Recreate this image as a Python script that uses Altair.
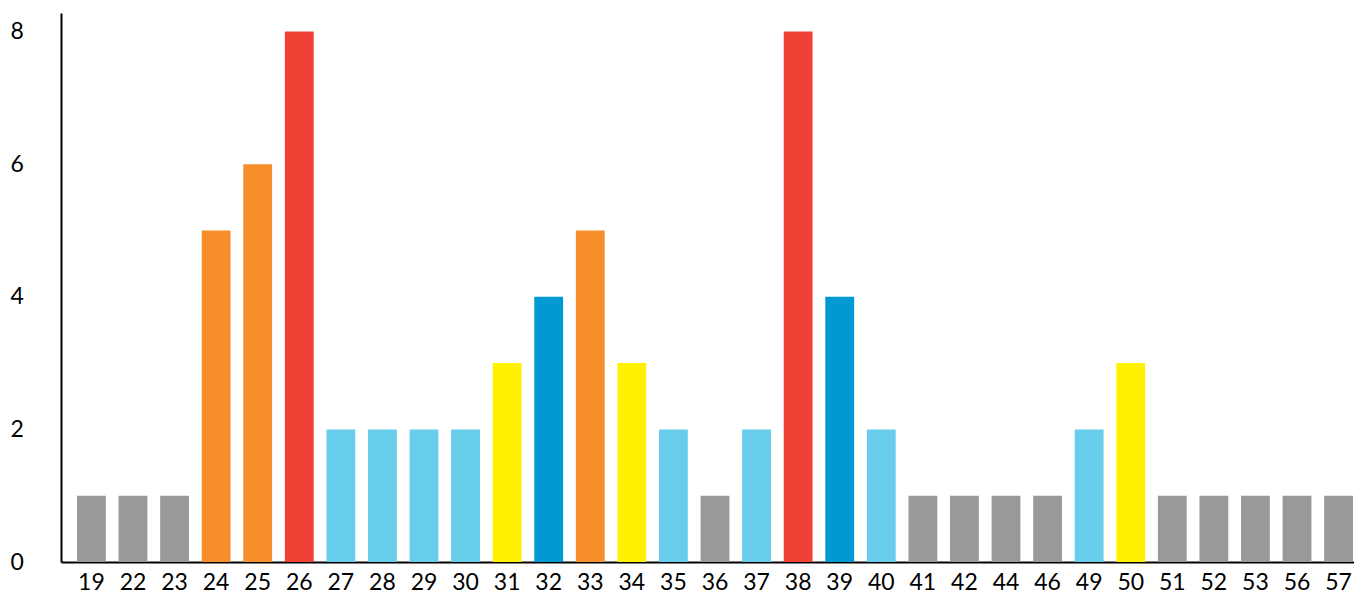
import altair as alt
import pandas as pd

ages = ["19", "22", "23", "24", "25", "26", "27", "28", "29", "30", "31", "32",
        "33", "34", "35", "36", "37", "38", "39", "40", "41", "42", "44", "46",
        "49", "50", "51", "52", "53", "56", "57"]
counts = [1, 1, 1, 5, 6, 8, 2, 2, 2, 2, 3, 4,
          5, 3, 2, 1, 2, 8, 4, 2, 1, 1, 1, 1,
          2, 3, 1, 1, 1, 1, 1]

color_domain = [1, 2, 3, 4, 5, 6, 8]
color_range = ["#999999", "#68cdea", "#fff200", "#0099d3", "#f68e2c", "#f68e2c", "#ef4136"]

df = pd.DataFrame({"age": ages, "count": counts})

FONT = "Lato"

chart = alt.Chart(df).mark_bar().encode(
    x=alt.X("age:N", sort=ages, title=None,
            scale=alt.Scale(paddingInner=0.307, paddingOuter=0.385, range=[0, 1308], round=False),
            axis=alt.Axis(labelAngle=0, ticks=False, domainColor="#000000", domainWidth=2,
                          labelPadding=20, labelFontSize=23, labelFont=FONT, labelColor="#000000",
                          labelBaseline="middle")),
    y=alt.Y("count:Q", title=None,
            scale=alt.Scale(domain=[0, 8.28], nice=False),
            axis=alt.Axis(values=[0, 2, 4, 6, 8], grid=False, ticks=False,
                          domainColor="#000000", domainWidth=2,
                          labelAlign="left", labelPadding=51, labelFontSize=23,
                          labelFont=FONT, labelColor="#000000")),
    color=alt.Color("count:O", scale=alt.Scale(domain=color_domain, range=color_range), legend=None),
).properties(
    width=1293, height=549,
    autosize=alt.AutoSizeParams(type="none"),
    padding={"left": 53, "top": 5, "right": 0, "bottom": 38},
).configure_view(stroke=None)

chart.save("out.html", embed_options={"renderer": "svg", "actions": False})
